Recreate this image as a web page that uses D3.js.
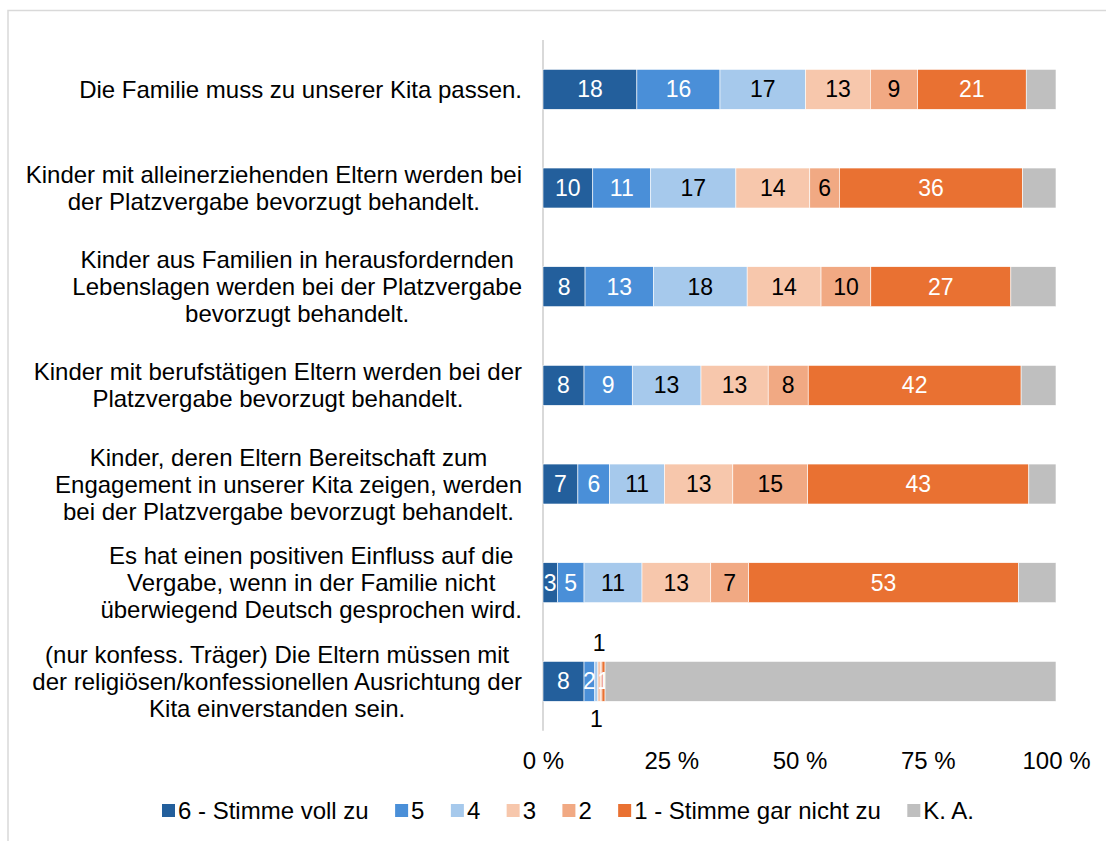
<!DOCTYPE html>
<html><head><meta charset="utf-8">
<script src="https://cdn.jsdelivr.net/npm/d3@7"></script>
<style>body{margin:0;background:#fff}svg{display:block;font-family:"Liberation Sans",Arial,sans-serif}</style>
</head><body><svg id="c" width="1106" height="841"></svg>
<script>
const categories = [
  ["Die Familie muss zu unserer Kita passen."],
  ["Kinder mit alleinerziehenden Eltern werden bei","der Platzvergabe bevorzugt behandelt."],
  ["Kinder aus Familien in herausfordernden","Lebenslagen werden bei der Platzvergabe","bevorzugt behandelt."],
  ["Kinder mit berufstätigen Eltern werden bei der","Platzvergabe bevorzugt behandelt."],
  ["Kinder, deren Eltern Bereitschaft zum","Engagement in unserer Kita zeigen, werden","bei der Platzvergabe bevorzugt behandelt."],
  ["Es hat einen positiven Einfluss auf die","Vergabe, wenn in der Familie nicht","überwiegend Deutsch gesprochen wird."],
  ["(nur konfess. Träger) Die Eltern müssen mit","der religiösen/konfessionellen Ausrichtung der","Kita einverstanden sein."]
];
const seriesNames = ["6 - Stimme voll zu","5","4","3","2","1 - Stimme gar nicht zu","K. A."];
const v6 = [18.3, 9.7, 8.2, 8.0, 6.8, 2.8, 8.0];
const v5 = [16.2, 11.3, 13.3, 9.4, 6.2, 5.2, 2.1];
const v4 = [16.7, 16.6, 18.3, 13.4, 10.7, 11.3, 0.6];
const v3 = [12.6, 14.4, 14.4, 13.1, 13.3, 13.4, 0.5];
const v2 = [9.2, 5.8, 9.7, 7.8, 14.6, 7.4, 0.3];
const v1 = [21.2, 35.7, 27.3, 41.5, 43.1, 52.6, 0.6];
const vKA = [5.8, 6.5, 8.8, 6.8, 5.3, 7.3, 87.9];
const tickValues = [0, 25, 50, 75, 100];
const tickLabels = ["0 %","25 %","50 %","75 %","100 %"];

const seriesValues = [v6, v5, v4, v3, v2, v1, vKA];
const colors = ["#235f9c","#4a8fd8","#a6c9ec","#f7c7ac","#f1a983","#e97132","#bfbfbf"];
const labelColors = ["#fff","#fff","#000","#000","#000","#fff",null];
// manual label placement for the last row (tiny segments)
const labelOffsets = {"6-3": "above", "6-2": "below"};

const svg = d3.select("#c");
// frame
svg.append("path").attr("d","M8,841V10.5H1106").attr("fill","none").attr("stroke","#d9d9d9").attr("stroke-width",1.5);

const x = d3.scaleLinear().domain([0,100]).range([543,1056]);
const y = d3.scaleBand().domain(d3.range(categories.length)).range([40,730.7]).paddingInner(0.595).paddingOuter(0.2975);

// axis line
svg.append("line").attr("x1",543).attr("x2",543).attr("y1",40).attr("y2",730.7).attr("stroke","#d9d9d9").attr("stroke-width",2);

// stacks
const rows = categories.map((c,i)=>{const o={i}; seriesValues.forEach((s,k)=>o["s"+k]=s[i]); return o;});
const stack = d3.stack().keys(seriesValues.map((s,k)=>"s"+k))(rows);

stack.forEach((layer,k)=>{
  const g = svg.append("g");
  g.selectAll("rect").data(layer).join("rect")
    .attr("x",d=>x(d[0])).attr("width",d=>x(d[1])-x(d[0]))
    .attr("y",(d,i)=>y(i)).attr("height",y.bandwidth())
    .attr("fill",colors[k]).attr("stroke","#fff").attr("stroke-width",0.6);
  if(labelColors[k]){
    layer.forEach((d,i)=>{
      const val = Math.round(seriesValues[k][i]);
      if(val===0) return;
      const off = labelOffsets[i+"-"+k];
      let cy = y(i)+y.bandwidth()/2, col = labelColors[k];
      if(off==="above"){cy = y(i)-18; col="#000";}
      if(off==="below"){cy = y(i)+y.bandwidth()+18; col="#000";}
      svg.append("text").attr("x",x((d[0]+d[1])/2)).attr("y",cy)
        .attr("text-anchor","middle").attr("dominant-baseline","central")
        .attr("font-size",23).attr("fill",col).text(val);
    });
  }
});

// category labels: block right-aligned at 522, lines centered within block
categories.forEach((lines,i)=>{
  const cy = y(i)+y.bandwidth()/2;
  const lh = 27;
  const g = svg.append("g");
  const ts = lines.map((l,j)=>g.append("text").attr("font-size",24).attr("fill","#000")
      .attr("text-anchor","middle").attr("dominant-baseline","central")
      .attr("y",cy+(j-(lines.length-1)/2)*lh).text(l));
  const w = d3.max(ts,t=>t.node().getComputedTextLength());
  ts.forEach(t=>t.attr("x",522-w/2));
});

// x tick labels
const xAxis = d3.axisBottom(x).tickValues(tickValues).tickFormat((d,i)=>tickLabels[i]).tickSize(0).tickPadding(0);
const ax = svg.append("g").attr("transform","translate(0,760)").call(xAxis);
ax.select(".domain").remove();
ax.selectAll("text").attr("font-size",24).attr("fill","#000").attr("font-family","Liberation Sans, Arial, sans-serif")
  .attr("dy",null).attr("dominant-baseline","central");

// legend
const lg = svg.append("g");
let lx = 162;
seriesNames.forEach((n,k)=>{
  lg.append("rect").attr("x",lx).attr("y",804).attr("width",13).attr("height",13).attr("fill",colors[k]);
  const t = lg.append("text").attr("x",lx+16).attr("y",810.5).attr("dominant-baseline","central")
    .attr("font-size",24).attr("fill","#000").text(n);
  lx += 16 + t.node().getComputedTextLength() + 26.4;
});
</script>
</body></html>
